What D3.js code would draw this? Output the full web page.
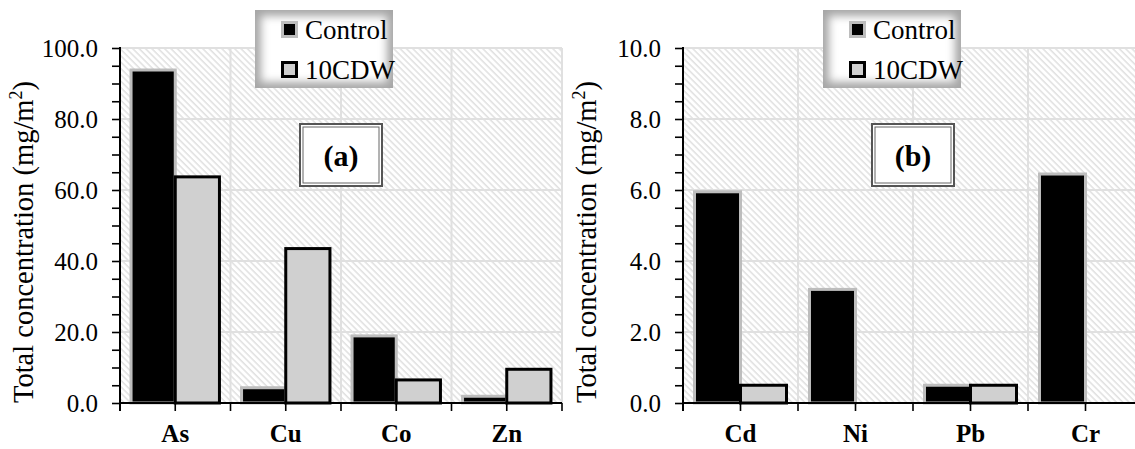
<!DOCTYPE html>
<html>
<head>
<meta charset="utf-8">
<script src="https://cdn.jsdelivr.net/npm/d3@7"></script>
<style>
  body { margin: 0; background: #fff; }
  svg { display: block; }
  svg text { font-family: "Liberation Serif", "Times New Roman", serif !important; }
</style>
</head>
<body>
<svg id="chart" width="1135" height="449"></svg>
<script>
// data
var seriesNames = ["Control", "10CDW"];

var metalsA = ["As", "Cu", "Co", "Zn"];
var controlA = [93.8, 4.3, 18.9, 1.9];
var cdwA = [63.7, 43.5, 6.5, 9.5];
var yTicksA = [0, 20, 40, 60, 80, 100];

var metalsB = ["Cd", "Ni", "Pb", "Cr"];
var controlB = [5.95, 3.2, 0.5, 6.45];
var cdwB = [0.5, null, 0.5, null];
var yTicksB = [0, 2, 4, 6, 8, 10];

var svg = d3.select("#chart");
var defs = svg.append("defs");

// diagonal hatch for plot background
var pat = defs.append("pattern")
  .attr("id", "hatch")
  .attr("patternUnits", "userSpaceOnUse")
  .attr("width", 4.5).attr("height", 4.5)
  .attr("patternTransform", "rotate(-45)");
pat.append("rect").attr("width", 4.5).attr("height", 4.5).attr("fill", "#fff");
pat.append("line").attr("x1", 1).attr("y1", 0).attr("x2", 1).attr("y2", 4.5)
  .attr("stroke", "#d9d9d9").attr("stroke-width", 1.2);

// soft inner glow for the legend box
var blur = defs.append("filter").attr("id", "soft")
  .attr("x", "-20%").attr("y", "-20%").attr("width", "140%").attr("height", "140%");
blur.append("feGaussianBlur").attr("stdDeviation", 4);

var H_TOP = 48, H_BOT = 403;

function drawPanel(opts) {
  var g = svg.append("g");
  var x0 = opts.x0, x1 = opts.x1;

  var y = d3.scaleLinear().domain([0, opts.max]).range([H_BOT, H_TOP]);
  var x = d3.scaleBand().domain(opts.metals).range([x0, x1]).padding(0);
  var xs = d3.scaleBand().domain(seriesNames).range([0, x.bandwidth()])
    .paddingInner(0).paddingOuter(0.25);

  // background + grid
  g.append("rect").attr("x", x0).attr("y", H_TOP)
    .attr("width", x1 - x0).attr("height", H_BOT - H_TOP)
    .attr("fill", "url(#hatch)");

  g.selectAll(".hg").data(opts.ticks.slice(1)).enter().append("line")
    .attr("x1", x0).attr("x2", x1)
    .attr("y1", function(d) { return y(d); }).attr("y2", function(d) { return y(d); })
    .attr("stroke", "#e0e0e0").attr("stroke-width", 2);

  g.selectAll(".vg").data(opts.metals).enter().append("line")
    .attr("x1", function(d) { return x(d) + x.bandwidth(); })
    .attr("x2", function(d) { return x(d) + x.bandwidth(); })
    .attr("y1", H_TOP).attr("y2", H_BOT)
    .attr("stroke", "#e0e0e0").attr("stroke-width", 2);

  // bars
  var rows = [];
  opts.metals.forEach(function(m, i) {
    rows.push({ metal: m, s: "Control", v: opts.control[i] });
    rows.push({ metal: m, s: "10CDW", v: opts.cdw[i] });
  });
  rows = rows.filter(function(d) { return d.v != null; });

  g.selectAll(".bar").data(rows).enter().append("rect")
    .attr("x", function(d) { return x(d.metal) + xs(d.s); })
    .attr("width", xs.bandwidth())
    .attr("y", function(d) { return y(d.v); })
    .attr("height", function(d) { return H_BOT - y(d.v); })
    .attr("fill", function(d) { return d.s == "Control" ? "#000" : "#d0d0d0"; })
    .attr("stroke", function(d) { return d.s == "Control" ? "#bdbdbd" : "#000"; })
    .attr("stroke-width", 3);

  // y axis with minor ticks
  var minor = d3.range(0, opts.max + opts.max / 40, opts.max / 20);
  var yAxis = d3.axisLeft(y).tickValues(minor).tickSize(8).tickPadding(14)
    .tickFormat(function(d) {
      var major = opts.ticks.some(function(t) { return Math.abs(t - d) < 1e-6; });
      return major ? d3.format(".1f")(d) : "";
    });
  var ya = g.append("g").attr("transform", "translate(" + x0 + ",0)").call(yAxis);
  ya.select(".domain").remove();
  ya.selectAll("line").attr("stroke", "#000").attr("stroke-width", 1.6);
  ya.selectAll("text").attr("font-size", 25).attr("fill", "#000");
  g.append("line").attr("x1", x0).attr("x2", x0).attr("y1", H_TOP - 1).attr("y2", H_BOT + 8)
    .attr("stroke", "#000").attr("stroke-width", 2);

  // x axis
  g.append("line").attr("x1", x0).attr("x2", x1).attr("y1", H_BOT).attr("y2", H_BOT)
    .attr("stroke", "#000").attr("stroke-width", 2);
  var xt = [];
  opts.metals.forEach(function(m) {
    xt.push(x(m) + x.bandwidth() / 2);
    xt.push(x(m) + x.bandwidth());
  });
  g.selectAll(".xt").data(xt).enter().append("line")
    .attr("x1", function(d) { return d; }).attr("x2", function(d) { return d; })
    .attr("y1", H_BOT).attr("y2", H_BOT + 8)
    .attr("stroke", "#000").attr("stroke-width", 1.6);

  g.selectAll(".xl").data(opts.metals).enter().append("text")
    .attr("x", function(d) { return x(d) + x.bandwidth() / 2; })
    .attr("y", 442)
    .attr("text-anchor", "middle")
    .attr("font-size", 25).attr("font-weight", "bold")
    .text(function(d) { return d; });

  // y title
  var yt = g.append("text")
    .attr("transform", "translate(" + (x0 - 87) + ",242) rotate(-90)")
    .attr("text-anchor", "middle").attr("font-size", 28.5);
  yt.append("tspan").text("Total concentration (mg/m");
  yt.append("tspan").attr("font-size", 18).attr("dy", -11).text("2");
  yt.append("tspan").attr("dy", 11).text(")");

  // panel label box
  var cx = (x0 + opts.plotW / 2);
  var bw = 82, bh = 62, by = 124;
  g.append("rect").attr("x", cx - bw / 2).attr("y", by).attr("width", bw).attr("height", bh)
    .attr("fill", "#fff").attr("stroke", "#555").attr("stroke-width", 2);
  g.append("rect").attr("x", cx - bw / 2 + 3).attr("y", by + 3).attr("width", bw - 6).attr("height", bh - 6)
    .attr("fill", "none").attr("stroke", "#666").attr("stroke-width", 1);
  g.append("text").attr("x", cx).attr("y", by + 42)
    .attr("text-anchor", "middle").attr("font-size", 30).attr("font-weight", "bold")
    .text(opts.label);

  // legend
  var lx = opts.legendX, ly = 10, lw = 138, lh = 78;
  var clipId = "lc" + opts.label.replace(/\W/g, "");
  defs.append("clipPath").attr("id", clipId).append("rect")
    .attr("x", lx).attr("y", ly).attr("width", lw).attr("height", lh);
  var lg = g.append("g").attr("clip-path", "url(#" + clipId + ")");
  lg.append("rect").attr("x", lx).attr("y", ly).attr("width", lw).attr("height", lh).attr("fill", "#a6a6a6");
  lg.append("rect").attr("x", lx + 6).attr("y", ly + 6).attr("width", lw - 12).attr("height", lh - 12)
    .attr("fill", "#fff").attr("filter", "url(#soft)");

  var items = g.selectAll(".li").data(seriesNames).enter().append("g")
    .attr("transform", function(d, i) { return "translate(" + (lx + 26) + "," + (ly + 11 + i * 40) + ")"; });
  items.append("rect").attr("x", 1.5).attr("y", 1.5).attr("width", 14).attr("height", 14)
    .attr("fill", function(d, i) { return i == 0 ? "#000" : "#d0d0d0"; })
    .attr("stroke", function(d, i) { return i == 0 ? "#bdbdbd" : "#000"; })
    .attr("stroke-width", 3);
  items.append("text").attr("x", 24).attr("y", 18).attr("font-size", 27)
    .text(function(d) { return d; });
}

drawPanel({ metals: metalsA, control: controlA, cdw: cdwA, ticks: yTicksA, max: 100,
  x0: 120, x1: 562, plotW: 442, label: "(a)", legendX: 255 });
drawPanel({ metals: metalsB, control: controlB, cdw: cdwB, ticks: yTicksB, max: 10,
  x0: 683, x1: 1143, plotW: 460, label: "(b)", legendX: 823 });
</script>
</body>
</html>
